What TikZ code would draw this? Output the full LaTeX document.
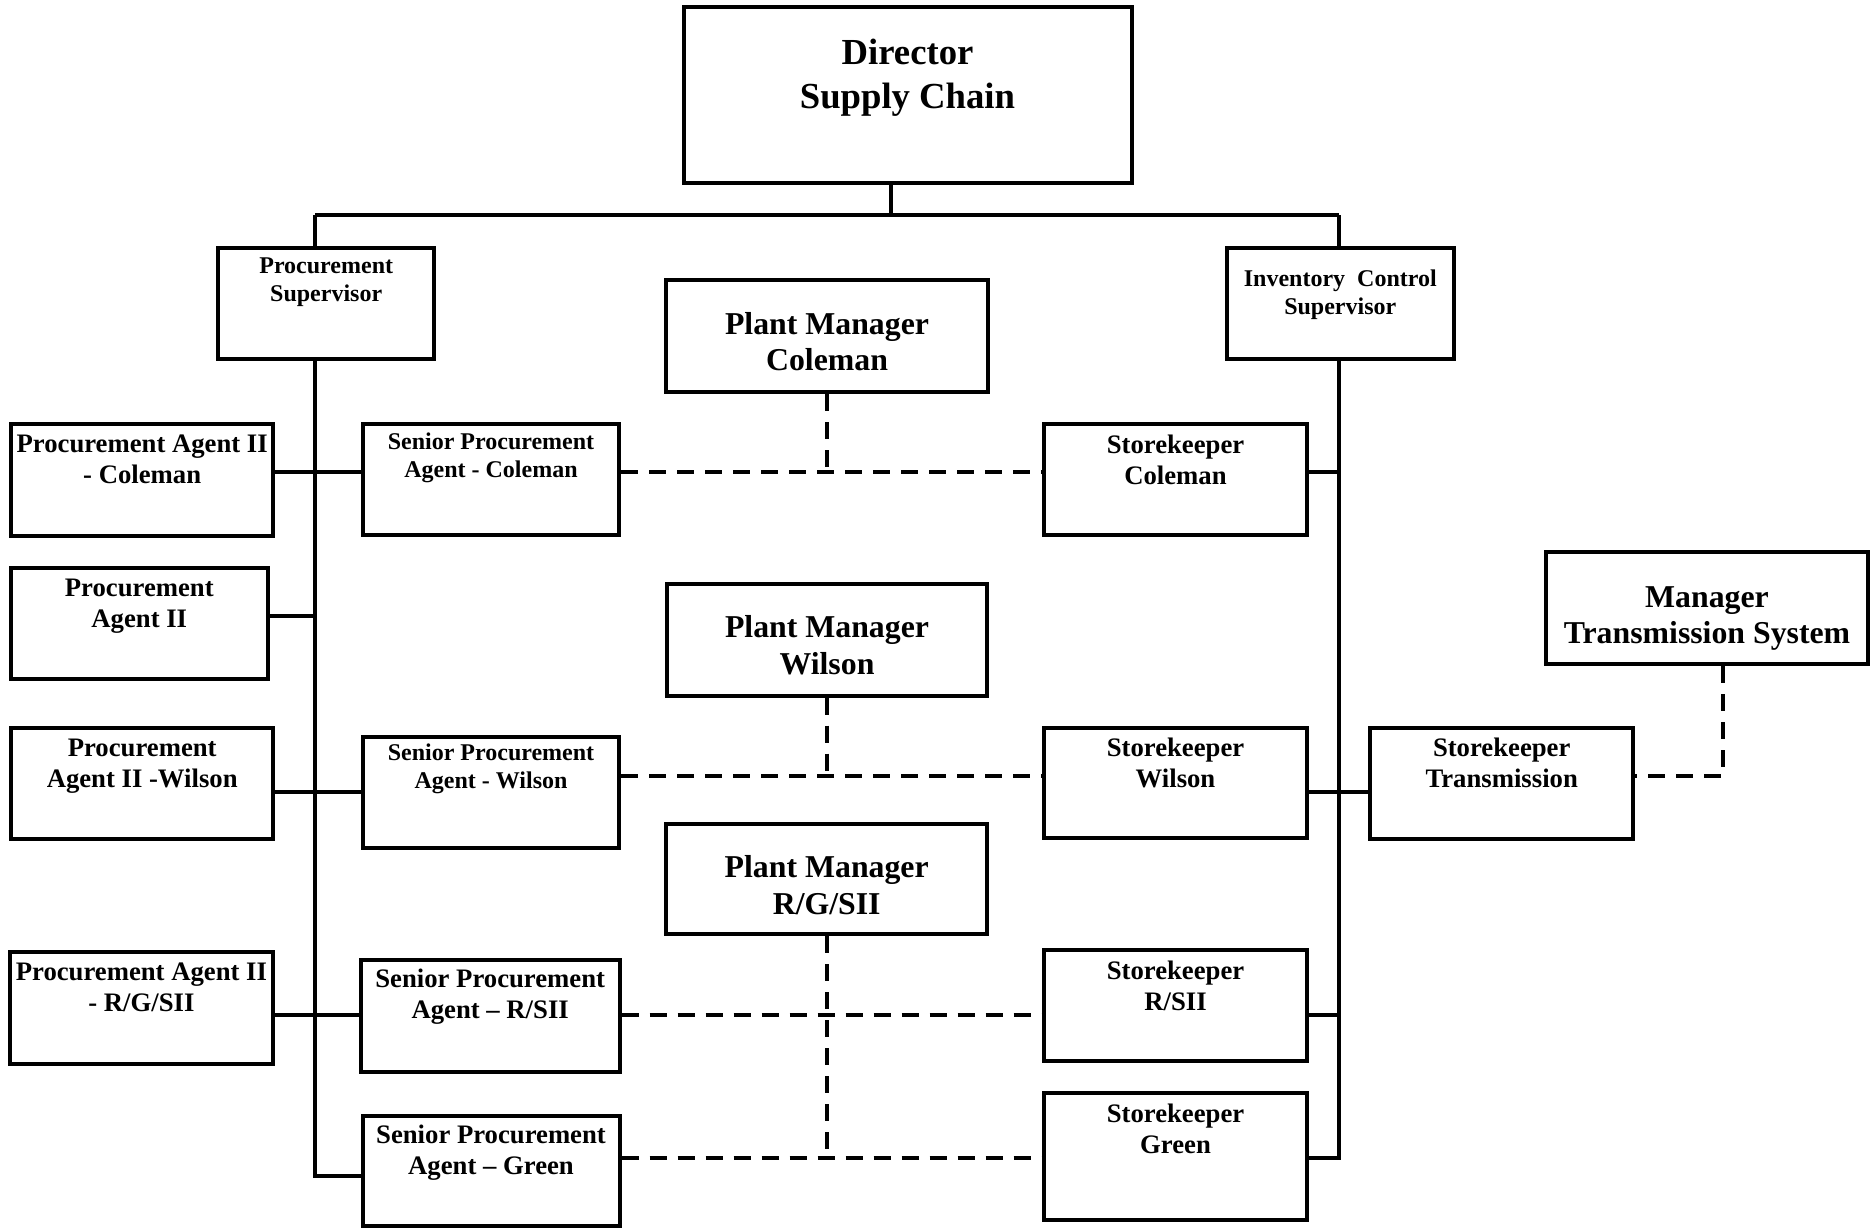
\documentclass[tikz,border=0pt]{standalone}
\usepackage{fontspec}
\setmainfont{Liberation Serif}
\usepackage{tikz}

\tikzset{
	post/.style 2 args={draw, line width=2pt, inner sep=0pt, minimum width=#1, minimum height=#2},
	caption/.style={anchor=north, align=center, inner sep=0pt, yshift=-5.5pt},
	dashline/.style={dash pattern=on 8.5pt off 5.5pt},
	txtsmall/.style={font=\bfseries\fontsize{12}{14}\selectfont},
	txtmid/.style={font=\bfseries\fontsize{13.35}{15.5}\selectfont},
	txtlarge/.style={font=\bfseries\fontsize{15.9}{18.4}\selectfont},
	txttitle/.style={font=\bfseries\fontsize{18.35}{22}\selectfont}
}

\begin{document}
\begin{tikzpicture}[x=0.5pt, y=-0.5pt, line width=2pt]
\useasboundingbox (0,0) rectangle (1875,1227);

\node[post={224pt}{88pt}, label={[caption, txttitle, yshift=-10.5pt]north:{Director\\Supply Chain}}] (dir) at (907.5,95.3) {};
\node[post={107.9pt}{55.5pt}, label={[caption, txtsmall, yshift=1pt]north:{Procurement\\Supervisor}}] (psup) at (326.2,303.8) {};
\node[post={113.7pt}{55.5pt}, label={[caption, txtsmall, yshift=-5.3pt]north:{Inventory\ \ Control\\Supervisor}}] (icsup) at (1340.3,303.8) {};

\node[post={161pt}{56pt}, label={[caption, txtlarge, yshift=-10.5pt]north:{Plant Manager\\Coleman}}] (pmcol) at (827,336) {};
\node[post={160.3pt}{55.9pt}, label={[caption, txtlarge, yshift=-10.5pt]north:{Plant Manager\\Wilson}}] (pmwil) at (827,639.8) {};
\node[post={160.7pt}{55.3pt}, label={[caption, txtlarge, yshift=-10.5pt]north:{Plant Manager\\R/G/SII}}] (pmrgs) at (826.7,878.8) {};
\node[post={161.4pt}{55.9pt}, label={[caption, txtlarge, yshift=-11.5pt]north:{Manager\\Transmission System}}] (mts) at (1707,608.2) {};

\node[post={131.2pt}{55.9pt}, label={[caption, txtmid]north:{Procurement Agent II\\- Coleman}}] (pa2col) at (142.2,480.2) {};
\node[post={128.4pt}{55.5pt}, label={[caption, txtmid]north:{Procurement\\Agent II}}] (pa2) at (139.3,623.8) {};
\node[post={131.2pt}{55.5pt}, label={[caption, txtmid]north:{Procurement\\Agent II -Wilson}}] (pa2wil) at (142.2,783.8) {};
\node[post={131.6pt}{56.2pt}, label={[caption, txtmid]north:{Procurement Agent II\\- R/G/SII}}] (pa2rgs) at (141.4,1007.8) {};

\node[post={128pt}{55.4pt}, label={[caption, txtsmall, yshift=1pt]north:{Senior Procurement\\Agent - Coleman}}] (spcol) at (491,479.7) {};
\node[post={128.4pt}{55.7pt}, label={[caption, txtsmall, yshift=2pt]north:{Senior Procurement\\Agent - Wilson}}] (spwil) at (491,792.3) {};
\node[post={129.5pt}{56.2pt}, label={[caption, txtmid, yshift=0.8pt]north:{Senior Procurement\\Agent – R/SII}}] (sprsii) at (490.2,1016.2) {};
\node[post={128.5pt}{55pt}, label={[caption, txtmid, yshift=0.8pt]north:{Senior Procurement\\Agent – Green}}] (spgrn) at (491,1171) {};

\node[post={131.2pt}{55.4pt}, label={[caption, txtmid]north:{Storekeeper\\Coleman}}] (skcol) at (1175.5,479.7) {};
\node[post={131.5pt}{55pt}, label={[caption, txtmid, yshift=0.8pt]north:{Storekeeper\\Wilson}}] (skwil) at (1175.5,783.3) {};
\node[post={131.5pt}{55.4pt}, label={[caption, txtmid]north:{Storekeeper\\R/SII}}] (skrsii) at (1175.5,1005.3) {};
\node[post={131.5pt}{63.4pt}, label={[caption, txtmid]north:{Storekeeper\\Green}}] (skgrn) at (1175.5,1156.7) {};
\node[post={131.3pt}{55.5pt}, label={[caption, txtmid, yshift=0.8pt]north:{Storekeeper\\Transmission}}] (sktr) at (1501.7,783.8) {};

\coordinate (top) at (891,215);
\coordinate (lbus) at (315,215);
\coordinate (rbus) at (1339,215);
\coordinate (rowcol) at (0,472);
\coordinate (rowagt) at (0,616);
\coordinate (rowwil) at (0,792);
\coordinate (dashwil) at (0,776);
\coordinate (rowrs) at (0,1015);
\coordinate (rowgrn) at (0,1176);
\coordinate (dashgrn) at (0,1158);
\coordinate (mtsdrop) at (1723,776);

% reporting lines
\draw (dir.south -| top) -- (top);
\draw (lbus) -- (rbus);
\draw (lbus) -- (lbus |- psup.north);
\draw (rbus) -- (rbus |- icsup.north);
\draw (lbus |- psup.south) -- (lbus |- rowgrn) -- (spgrn.west |- rowgrn);
\draw (rbus |- icsup.south) -- (rbus |- dashgrn) -- (skgrn.east |- dashgrn);
\draw (pa2col.east |- rowcol) -- (spcol.west |- rowcol);
\draw (pa2.east |- rowagt) -- (lbus |- rowagt);
\draw (pa2wil.east |- rowwil) -- (spwil.west |- rowwil);
\draw (pa2rgs.east |- rowrs) -- (sprsii.west |- rowrs);
\draw (skcol.east |- rowcol) -- (rbus |- rowcol);
\draw (skwil.east |- rowwil) -- (sktr.west |- rowwil);
\draw (skrsii.east |- rowrs) -- (rbus |- rowrs);

% plant links
\draw[dashline] (spcol.east |- rowcol) -- (skcol.west |- rowcol);
\draw[dashline] (pmcol.south) -- (pmcol.south |- rowcol);
\draw[dashline] (spwil.east |- dashwil) -- (skwil.west |- dashwil);
\draw[dashline] (pmwil.south) -- (pmwil.south |- dashwil);
\draw[dashline] (sprsii.east |- rowrs) -- (skrsii.west |- rowrs);
\draw[dashline] (spgrn.east |- dashgrn) -- (skgrn.west |- dashgrn);
\draw[dashline] (pmrgs.south) -- (pmrgs.south |- dashgrn);
\draw[dashline] (mtsdrop |- mts.south) -- (mtsdrop) -- (sktr.east |- mtsdrop);
\end{tikzpicture}
\end{document}
